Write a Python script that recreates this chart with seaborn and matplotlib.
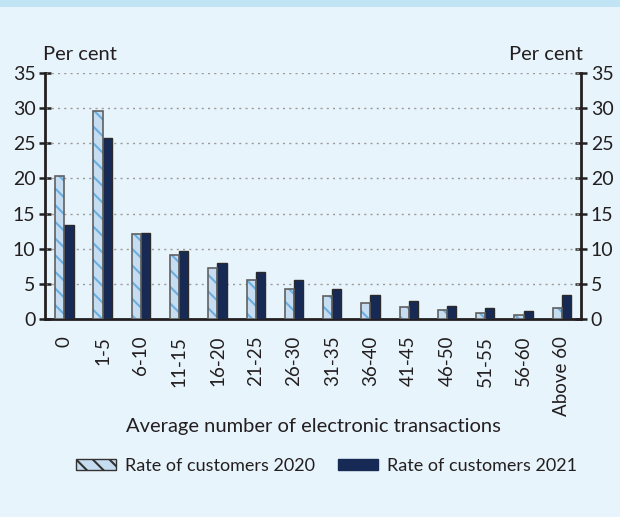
import matplotlib
matplotlib.use("Agg")
import matplotlib.pyplot as plt
import matplotlib.patches as mpatches
import seaborn as sns
import pandas as pd

categories = ["0", "1-5", "6-10", "11-15", "16-20", "21-25", "26-30", "31-35",
              "36-40", "41-45", "46-50", "51-55", "56-60", "Above 60"]
rate_2020 = [20.3, 29.6, 12.1, 9.1, 7.3, 5.6, 4.3, 3.2, 2.3, 1.7, 1.3, 0.8, 0.6, 1.5]
rate_2021 = [13.4, 25.7, 12.3, 9.7, 8.0, 6.7, 5.6, 4.3, 3.4, 2.6, 1.9, 1.5, 1.1, 3.4]
series_names = ["Rate of customers 2020", "Rate of customers 2021"]
y_ticks = [0, 5, 10, 15, 20, 25, 30, 35]

BG = "#e8f4fb"
BAND = "#c0e4f4"
LIGHT = "#c6ddf1"
HATCH = "#6aaee0"
DARK = "#172a55"
INK = "#231f20"

df = pd.DataFrame({
    "category": categories * 2,
    "value": rate_2020 + rate_2021,
    "series": [series_names[0]] * len(categories) + [series_names[1]] * len(categories),
})

sns.set_theme(style="white")
plt.rcParams["font.family"] = ["Lato", "DejaVu Sans"]
plt.rcParams["hatch.linewidth"] = 1.5
plt.rcParams["hatch.color"] = HATCH

fig = plt.figure(figsize=(6.2, 5.17), dpi=100, facecolor=BG)
fig.patches.append(mpatches.Rectangle((0, 1 - 7 / 517), 1, 7 / 517, transform=fig.transFigure,
                                      facecolor=BAND, edgecolor="none", zorder=0))
ax = fig.add_axes([0.073, 0.383, 0.864, 0.476])
ax.set_facecolor(BG)

sns.barplot(data=df, x="category", y="value", hue="series", order=categories,
            hue_order=series_names, palette=[LIGHT, DARK], width=0.48, gap=0,
            ax=ax, legend=False, zorder=3)

n = len(categories)
for i, bar in enumerate(ax.patches[: 2 * n]):
    if i < n:
        bar.set_facecolor(LIGHT)
        bar.set_hatch("\\\\")
        bar.set_edgecolor(HATCH)
        bar.set_linewidth(0)
        # outline drawn over the hatched fill
        outline = mpatches.Rectangle(bar.get_xy(), bar.get_width(), bar.get_height(),
                                     fill=False, edgecolor="#606060", linewidth=1.2, zorder=4)
        ax.add_patch(outline)
    else:
        bar.set_facecolor(DARK)
        bar.set_edgecolor("#2a2a2a")
        bar.set_linewidth(1.0)

ax.set_xlim(-0.5, n - 0.5)
ax.set_ylim(0, 35)
ax.set_yticks(y_ticks)
ax.set_xticks([i - 0.5 for i in range(n + 1)], minor=False)
ax.set_xticklabels([])
ax.set_xticks(range(n), minor=True)
ax.set_xticklabels(categories, minor=True, rotation=90, fontsize=13.5, color=INK)
ax.tick_params(axis="x", which="minor", length=0, pad=12)
ax.tick_params(axis="x", which="major", direction="out", length=5, width=1.8, color=INK)
ax.tick_params(axis="y", direction="inout", length=8, width=1.8, color=INK,
               labelsize=14, labelcolor=INK, left=True, right=True,
               labelleft=True, labelright=True, pad=3)

for y in y_ticks[1:]:
    ax.axhline(y, color="#9a9a9a", linestyle=(0, (1.5, 3)), linewidth=1.0, zorder=1)

for side in ["left", "right", "bottom"]:
    ax.spines[side].set_visible(True)
    ax.spines[side].set_color(INK)
    ax.spines[side].set_linewidth(2)
ax.spines["top"].set_visible(False)

ax.set_xlabel("Average number of electronic transactions", fontsize=14.5, color=INK, labelpad=2)
ax.set_ylabel("")

fig.text(0.069, 1 - 55 / 517, "Per cent", fontsize=14.5, color=INK, ha="left", va="center")
fig.text(0.94, 1 - 55 / 517, "Per cent", fontsize=14.5, color=INK, ha="right", va="center")

legend_hatch = mpatches.Patch(facecolor=LIGHT, edgecolor="#333333", hatch="\\\\", linewidth=1.0,
                              label=series_names[0])
handles = [
    legend_hatch,
    mpatches.Patch(facecolor=DARK, edgecolor=DARK, label=series_names[1]),
]
leg = fig.legend(handles=handles, loc="center", bbox_to_anchor=(0.527, 1 - 466 / 517), ncol=2,
                 frameon=False, fontsize=13, handlelength=2.2, handleheight=0.6,
                 columnspacing=1.3, handletextpad=0.5)
for t in leg.get_texts():
    t.set_color(INK)
for h in leg.legend_handles[:1]:
    h.set_hatch("\\\\")

fig.savefig("out.png", dpi=100, facecolor=BG)
